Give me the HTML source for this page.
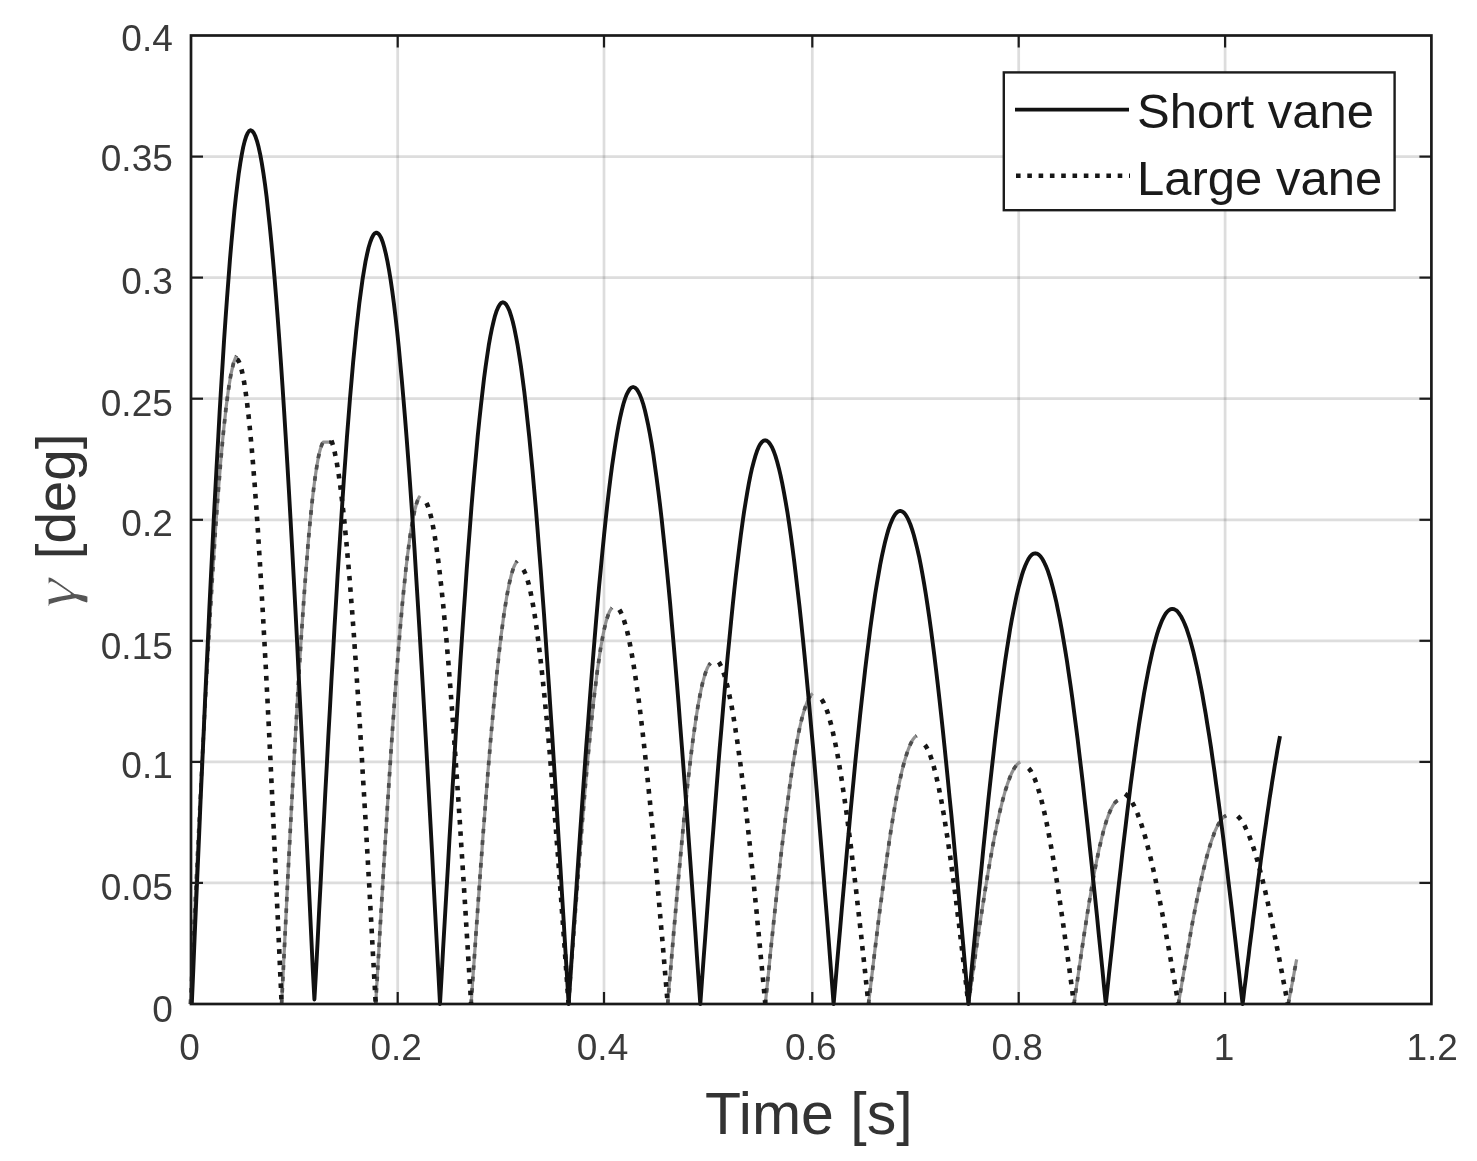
<!DOCTYPE html>
<html><head><meta charset="utf-8"><title>Vane plot</title>
<style>html,body{margin:0;padding:0;background:#fff}svg{display:block;filter:blur(0.55px)}text{font-family:"Liberation Sans",sans-serif}</style></head><body>
<svg width="1477" height="1161" viewBox="0 0 1477 1161">
<rect width="1477" height="1161" fill="#fff"/>
<g stroke="#262626" stroke-opacity="0.155" stroke-width="2.7"><line x1="397.7" y1="35.5" x2="397.7" y2="1004.0"/><line x1="604.0" y1="35.5" x2="604.0" y2="1004.0"/><line x1="812.3" y1="35.5" x2="812.3" y2="1004.0"/><line x1="1018.7" y1="35.5" x2="1018.7" y2="1004.0"/><line x1="1225.1" y1="35.5" x2="1225.1" y2="1004.0"/><line x1="191.0" y1="882.9" x2="1431.4" y2="882.9"/><line x1="191.0" y1="761.9" x2="1431.4" y2="761.9"/><line x1="191.0" y1="640.8" x2="1431.4" y2="640.8"/><line x1="191.0" y1="519.8" x2="1431.4" y2="519.8"/><line x1="191.0" y1="398.7" x2="1431.4" y2="398.7"/><line x1="191.0" y1="277.6" x2="1431.4" y2="277.6"/><line x1="191.0" y1="156.6" x2="1431.4" y2="156.6"/></g>
<g fill="none" stroke-linejoin="round">
<g stroke="#929292" stroke-width="3.2"><path d="M190.4 1004.0 L191.2 987.7 L191.9 971.4 L192.7 955.1 L193.5 938.9 L194.2 922.7 L195.0 906.6 L195.8 890.5 L196.6 874.5 L197.3 858.5 L198.1 842.7 L198.9 827.0 L199.6 811.3 L200.4 795.8 L201.2 780.5 L201.9 765.2 L202.7 750.1 L203.5 735.2 L204.3 720.5 L205.0 705.9 L205.8 691.5 L206.6 677.3 L207.3 663.3 L208.1 649.6 L208.9 636.0 L209.7 622.7 L210.4 609.6 L211.2 596.8 L212.0 584.2 L212.7 571.9 L213.5 559.9 L214.3 548.1 L215.0 536.7 L215.8 525.5 L216.6 514.6 L217.3 504.1 L218.1 493.8 L218.9 483.9 L219.7 474.3 L220.4 465.0 L221.2 456.1 L222.0 447.5 L222.7 439.3 L223.5 431.4 L224.3 423.9 L225.1 416.7 L225.8 410.0 L226.6 403.5 L227.4 397.5 L228.1 391.9 L228.9 386.6 L229.7 381.7 L230.4 377.3 L231.2 373.2 L232.0 369.5 L232.8 366.2 L233.5 363.3 L234.3 360.8 L235.1 358.7 L235.8 357.1 L236.6 355.8"/><path d="M281.6 1004.0 L282.3 989.9 L283.0 975.9 L283.7 961.8 L284.4 947.8 L285.1 933.8 L285.8 919.9 L286.5 906.0 L287.1 892.2 L287.8 878.4 L288.5 864.7 L289.2 851.1 L289.9 837.7 L290.6 824.3 L291.3 811.0 L292.0 797.8 L292.7 784.8 L293.4 771.9 L294.1 759.1 L294.8 746.6 L295.5 734.1 L296.2 721.9 L296.9 709.8 L297.5 697.9 L298.2 686.1 L298.9 674.6 L299.6 663.3 L300.3 652.2 L301.0 641.3 L301.7 630.7 L302.4 620.3 L303.1 610.1 L303.8 600.1 L304.5 590.4 L305.2 581.0 L305.9 571.9 L306.6 563.0 L307.3 554.4 L307.9 546.0 L308.6 538.0 L309.3 530.2 L310.0 522.7 L310.7 515.6 L311.4 508.7 L312.1 502.2 L312.8 495.9 L313.5 490.0 L314.2 484.4 L314.9 479.1 L315.6 474.2 L316.3 469.6 L317.0 465.3 L317.7 461.3 L318.3 457.7 L319.0 454.5 L319.7 451.5 L320.4 448.9 L321.1 446.7 L321.8 444.8 L322.5 443.3 L323.2 442.1 L331.0 442.1"/><path d="M375.7 1004.0 L376.4 991.2 L377.2 978.5 L377.9 965.8 L378.7 953.0 L379.4 940.4 L380.1 927.7 L380.9 915.1 L381.6 902.6 L382.4 890.1 L383.1 877.7 L383.8 865.4 L384.6 853.2 L385.3 841.0 L386.1 829.0 L386.8 817.1 L387.5 805.3 L388.3 793.6 L389.0 782.0 L389.8 770.6 L390.5 759.3 L391.2 748.2 L392.0 737.3 L392.7 726.5 L393.5 715.9 L394.2 705.4 L394.9 695.2 L395.7 685.1 L396.4 675.3 L397.2 665.7 L397.9 656.2 L398.6 647.0 L399.4 638.0 L400.1 629.3 L400.9 620.7 L401.6 612.5 L402.3 604.4 L403.1 596.6 L403.8 589.1 L404.6 581.8 L405.3 574.8 L406.0 568.1 L406.8 561.6 L407.5 555.4 L408.3 549.5 L409.0 543.9 L409.7 538.6 L410.5 533.5 L411.2 528.8 L412.0 524.4 L412.7 520.2 L413.4 516.4 L414.2 512.8 L414.9 509.6 L415.7 506.7 L416.4 504.1 L417.1 501.8 L417.9 499.8 L418.6 498.2 L419.4 496.8 L420.1 495.8"/><path d="M471.1 1004.0 L471.9 992.9 L472.6 981.7 L473.4 970.6 L474.2 959.5 L475.0 948.5 L475.7 937.4 L476.5 926.4 L477.3 915.5 L478.0 904.6 L478.8 893.8 L479.6 883.0 L480.3 872.4 L481.1 861.8 L481.9 851.3 L482.6 840.9 L483.4 830.5 L484.2 820.4 L485.0 810.3 L485.7 800.3 L486.5 790.5 L487.3 780.8 L488.0 771.2 L488.8 761.8 L489.6 752.6 L490.3 743.5 L491.1 734.5 L491.9 725.8 L492.7 717.2 L493.4 708.8 L494.2 700.5 L495.0 692.5 L495.7 684.7 L496.5 677.0 L497.3 669.6 L498.1 662.4 L498.8 655.4 L499.6 648.6 L500.4 642.1 L501.1 635.7 L501.9 629.6 L502.7 623.8 L503.4 618.1 L504.2 612.8 L505.0 607.6 L505.8 602.7 L506.5 598.1 L507.3 593.7 L508.1 589.6 L508.8 585.7 L509.6 582.1 L510.4 578.8 L511.1 575.8 L511.9 573.0 L512.7 570.4 L513.4 568.2 L514.2 566.2 L515.0 564.5 L515.8 563.1 L516.5 562.0 L517.3 561.1"/><path d="M568.6 1004.0 L569.3 994.1 L570.0 984.1 L570.8 974.2 L571.5 964.3 L572.2 954.4 L572.9 944.6 L573.7 934.8 L574.4 925.0 L575.1 915.3 L575.8 905.6 L576.6 896.0 L577.3 886.5 L578.0 877.1 L578.7 867.7 L579.5 858.4 L580.2 849.2 L580.9 840.1 L581.6 831.1 L582.3 822.2 L583.1 813.4 L583.8 804.8 L584.5 796.2 L585.2 787.8 L586.0 779.5 L586.7 771.4 L587.4 763.4 L588.1 755.6 L588.9 747.9 L589.6 740.4 L590.3 733.1 L591.0 725.9 L591.7 718.9 L592.5 712.0 L593.2 705.4 L593.9 698.9 L594.6 692.7 L595.4 686.6 L596.1 680.7 L596.8 675.0 L597.5 669.6 L598.3 664.3 L599.0 659.3 L599.7 654.5 L600.4 649.8 L601.1 645.5 L601.9 641.3 L602.6 637.4 L603.3 633.7 L604.0 630.2 L604.8 626.9 L605.5 623.9 L606.2 621.2 L606.9 618.7 L607.7 616.4 L608.4 614.3 L609.1 612.5 L609.8 611.0 L610.6 609.7 L611.3 608.6 L612.0 607.8"/><path d="M667.7 1004.0 L668.4 995.5 L669.1 986.9 L669.8 978.4 L670.6 969.9 L671.3 961.4 L672.0 952.9 L672.7 944.5 L673.4 936.1 L674.1 927.7 L674.9 919.4 L675.6 911.2 L676.3 903.0 L677.0 894.9 L677.7 886.8 L678.4 878.8 L679.1 870.9 L679.9 863.1 L680.6 855.3 L681.3 847.7 L682.0 840.1 L682.7 832.7 L683.4 825.3 L684.1 818.1 L684.9 811.0 L685.6 804.0 L686.3 797.1 L687.0 790.4 L687.7 783.8 L688.4 777.3 L689.2 771.0 L689.9 764.8 L690.6 758.8 L691.3 752.9 L692.0 747.2 L692.7 741.7 L693.4 736.3 L694.2 731.1 L694.9 726.0 L695.6 721.1 L696.3 716.4 L697.0 711.9 L697.7 707.6 L698.4 703.4 L699.2 699.4 L699.9 695.7 L700.6 692.1 L701.3 688.7 L702.0 685.5 L702.7 682.5 L703.5 679.7 L704.2 677.1 L704.9 674.7 L705.6 672.6 L706.3 670.6 L707.0 668.8 L707.7 667.3 L708.5 665.9 L709.2 664.8 L709.9 663.9 L710.6 663.2"/><path d="M765.3 1004.0 L766.1 996.2 L766.9 988.4 L767.7 980.6 L768.5 972.8 L769.3 965.0 L770.0 957.3 L770.8 949.6 L771.6 941.9 L772.4 934.3 L773.2 926.7 L774.0 919.1 L774.8 911.6 L775.6 904.2 L776.4 896.8 L777.2 889.5 L778.0 882.3 L778.8 875.1 L779.5 868.1 L780.3 861.1 L781.1 854.2 L781.9 847.4 L782.7 840.7 L783.5 834.1 L784.3 827.6 L785.1 821.2 L785.9 814.9 L786.7 808.8 L787.5 802.8 L788.3 796.9 L789.0 791.1 L789.8 785.5 L790.6 780.0 L791.4 774.6 L792.2 769.4 L793.0 764.3 L793.8 759.4 L794.6 754.7 L795.4 750.1 L796.2 745.7 L797.0 741.4 L797.8 737.3 L798.5 733.3 L799.3 729.6 L800.1 726.0 L800.9 722.5 L801.7 719.3 L802.5 716.2 L803.3 713.4 L804.1 710.7 L804.9 708.2 L805.7 705.8 L806.5 703.7 L807.3 701.7 L808.0 700.0 L808.8 698.4 L809.6 697.0 L810.4 695.9 L811.2 694.9 L812.0 694.1 L812.8 693.5"/><path d="M868.5 1004.0 L869.3 997.2 L870.1 990.5 L870.9 983.7 L871.7 977.0 L872.5 970.3 L873.3 963.6 L874.1 956.9 L874.9 950.3 L875.7 943.7 L876.5 937.1 L877.3 930.6 L878.1 924.1 L878.9 917.7 L879.7 911.3 L880.5 905.0 L881.4 898.8 L882.2 892.6 L883.0 886.5 L883.8 880.4 L884.6 874.5 L885.4 868.6 L886.2 862.8 L887.0 857.1 L887.8 851.5 L888.6 846.0 L889.4 840.5 L890.2 835.2 L891.0 830.0 L891.8 824.9 L892.6 820.0 L893.4 815.1 L894.2 810.3 L895.0 805.7 L895.8 801.2 L896.6 796.8 L897.4 792.6 L898.2 788.5 L899.0 784.5 L899.8 780.7 L900.6 777.0 L901.4 773.5 L902.2 770.0 L903.0 766.8 L903.8 763.7 L904.6 760.7 L905.5 757.9 L906.3 755.3 L907.1 752.8 L907.9 750.5 L908.7 748.3 L909.5 746.3 L910.3 744.5 L911.1 742.8 L911.9 741.3 L912.7 739.9 L913.5 738.7 L914.3 737.7 L915.1 736.9 L915.9 736.2 L916.7 735.7"/><path d="M968.4 1004.0 L969.3 997.9 L970.1 991.8 L971.0 985.7 L971.9 979.6 L972.7 973.5 L973.6 967.5 L974.5 961.5 L975.3 955.5 L976.2 949.5 L977.0 943.6 L977.9 937.7 L978.8 931.8 L979.6 926.0 L980.5 920.2 L981.4 914.5 L982.2 908.9 L983.1 903.3 L984.0 897.8 L984.8 892.3 L985.7 886.9 L986.6 881.6 L987.4 876.4 L988.3 871.2 L989.2 866.2 L990.0 861.2 L990.9 856.3 L991.8 851.5 L992.6 846.8 L993.5 842.2 L994.3 837.7 L995.2 833.3 L996.1 829.1 L996.9 824.9 L997.8 820.8 L998.7 816.9 L999.5 813.1 L1000.4 809.4 L1001.3 805.8 L1002.1 802.3 L1003.0 799.0 L1003.9 795.8 L1004.7 792.8 L1005.6 789.8 L1006.5 787.1 L1007.3 784.4 L1008.2 781.9 L1009.1 779.5 L1009.9 777.3 L1010.8 775.2 L1011.6 773.3 L1012.5 771.5 L1013.4 769.8 L1014.2 768.3 L1015.1 767.0 L1016.0 765.8 L1016.8 764.7 L1017.7 763.9 L1018.6 763.1 L1019.4 762.5 L1020.3 762.1"/><path d="M1074.0 1004.0 L1074.7 998.9 L1075.5 993.8 L1076.2 988.7 L1076.9 983.6 L1077.7 978.5 L1078.4 973.5 L1079.1 968.4 L1079.8 963.4 L1080.6 958.4 L1081.3 953.4 L1082.0 948.5 L1082.8 943.6 L1083.5 938.7 L1084.2 933.9 L1085.0 929.1 L1085.7 924.4 L1086.4 919.7 L1087.1 915.1 L1087.9 910.5 L1088.6 906.0 L1089.3 901.6 L1090.1 897.2 L1090.8 892.9 L1091.5 888.6 L1092.2 884.4 L1093.0 880.3 L1093.7 876.3 L1094.4 872.4 L1095.2 868.5 L1095.9 864.7 L1096.6 861.0 L1097.4 857.4 L1098.1 853.9 L1098.8 850.5 L1099.5 847.2 L1100.3 844.0 L1101.0 840.9 L1101.7 837.8 L1102.5 834.9 L1103.2 832.1 L1103.9 829.4 L1104.7 826.8 L1105.4 824.3 L1106.1 822.0 L1106.8 819.7 L1107.6 817.6 L1108.3 815.6 L1109.0 813.7 L1109.8 811.9 L1110.5 810.2 L1111.2 808.7 L1112.0 807.3 L1112.7 806.0 L1113.4 804.8 L1114.1 803.7 L1114.9 802.8 L1115.6 802.0 L1116.3 801.4 L1117.1 800.8 L1117.8 800.4"/><path d="M1178.4 1004.0 L1179.2 999.3 L1180.0 994.5 L1180.8 989.8 L1181.6 985.1 L1182.4 980.3 L1183.2 975.6 L1184.0 971.0 L1184.8 966.3 L1185.6 961.7 L1186.4 957.1 L1187.2 952.5 L1188.0 947.9 L1188.8 943.4 L1189.6 939.0 L1190.4 934.5 L1191.1 930.1 L1191.9 925.8 L1192.7 921.5 L1193.5 917.3 L1194.3 913.1 L1195.1 908.9 L1195.9 904.9 L1196.7 900.9 L1197.5 896.9 L1198.3 893.1 L1199.1 889.3 L1199.9 885.5 L1200.7 881.9 L1201.5 878.3 L1202.3 874.8 L1203.1 871.4 L1203.9 868.0 L1204.7 864.8 L1205.5 861.6 L1206.3 858.6 L1207.1 855.6 L1207.9 852.7 L1208.7 849.9 L1209.5 847.2 L1210.3 844.6 L1211.1 842.1 L1211.9 839.7 L1212.7 837.5 L1213.5 835.3 L1214.2 833.2 L1215.0 831.2 L1215.8 829.4 L1216.6 827.6 L1217.4 826.0 L1218.2 824.5 L1219.0 823.1 L1219.8 821.8 L1220.6 820.6 L1221.4 819.5 L1222.2 818.6 L1223.0 817.7 L1223.8 817.0 L1224.6 816.4 L1225.4 816.0 L1226.2 815.6"/><path d="M1288.3 1004.0 L1288.9 1000.5 L1289.6 997.1 L1290.2 993.6 L1290.9 990.1 L1291.5 986.7 L1292.2 983.2 L1292.8 979.8 L1293.5 976.4 L1294.1 972.9 L1294.7 969.5 L1295.4 966.1 L1296.0 962.7 L1296.7 959.4"/></g>
<g stroke="#4e4e4e" stroke-width="3.7" stroke-dasharray="4.6 6.8"><path d="M190.4 1004.0 L191.2 987.7 L191.9 971.4 L192.7 955.1 L193.5 938.9 L194.2 922.7 L195.0 906.6 L195.8 890.5 L196.6 874.5 L197.3 858.5 L198.1 842.7 L198.9 827.0 L199.6 811.3 L200.4 795.8 L201.2 780.5 L201.9 765.2 L202.7 750.1 L203.5 735.2 L204.3 720.5 L205.0 705.9 L205.8 691.5 L206.6 677.3 L207.3 663.3 L208.1 649.6 L208.9 636.0 L209.7 622.7 L210.4 609.6 L211.2 596.8 L212.0 584.2 L212.7 571.9 L213.5 559.9 L214.3 548.1 L215.0 536.7 L215.8 525.5 L216.6 514.6 L217.3 504.1 L218.1 493.8 L218.9 483.9 L219.7 474.3 L220.4 465.0 L221.2 456.1 L222.0 447.5 L222.7 439.3 L223.5 431.4 L224.3 423.9 L225.1 416.7 L225.8 410.0 L226.6 403.5 L227.4 397.5 L228.1 391.9 L228.9 386.6 L229.7 381.7 L230.4 377.3 L231.2 373.2 L232.0 369.5 L232.8 366.2 L233.5 363.3 L234.3 360.8 L235.1 358.7 L235.8 357.1 L236.6 355.8"/><path d="M281.6 1004.0 L282.3 989.9 L283.0 975.9 L283.7 961.8 L284.4 947.8 L285.1 933.8 L285.8 919.9 L286.5 906.0 L287.1 892.2 L287.8 878.4 L288.5 864.7 L289.2 851.1 L289.9 837.7 L290.6 824.3 L291.3 811.0 L292.0 797.8 L292.7 784.8 L293.4 771.9 L294.1 759.1 L294.8 746.6 L295.5 734.1 L296.2 721.9 L296.9 709.8 L297.5 697.9 L298.2 686.1 L298.9 674.6 L299.6 663.3 L300.3 652.2 L301.0 641.3 L301.7 630.7 L302.4 620.3 L303.1 610.1 L303.8 600.1 L304.5 590.4 L305.2 581.0 L305.9 571.9 L306.6 563.0 L307.3 554.4 L307.9 546.0 L308.6 538.0 L309.3 530.2 L310.0 522.7 L310.7 515.6 L311.4 508.7 L312.1 502.2 L312.8 495.9 L313.5 490.0 L314.2 484.4 L314.9 479.1 L315.6 474.2 L316.3 469.6 L317.0 465.3 L317.7 461.3 L318.3 457.7 L319.0 454.5 L319.7 451.5 L320.4 448.9 L321.1 446.7 L321.8 444.8 L322.5 443.3 L323.2 442.1 L331.0 442.1"/><path d="M375.7 1004.0 L376.4 991.2 L377.2 978.5 L377.9 965.8 L378.7 953.0 L379.4 940.4 L380.1 927.7 L380.9 915.1 L381.6 902.6 L382.4 890.1 L383.1 877.7 L383.8 865.4 L384.6 853.2 L385.3 841.0 L386.1 829.0 L386.8 817.1 L387.5 805.3 L388.3 793.6 L389.0 782.0 L389.8 770.6 L390.5 759.3 L391.2 748.2 L392.0 737.3 L392.7 726.5 L393.5 715.9 L394.2 705.4 L394.9 695.2 L395.7 685.1 L396.4 675.3 L397.2 665.7 L397.9 656.2 L398.6 647.0 L399.4 638.0 L400.1 629.3 L400.9 620.7 L401.6 612.5 L402.3 604.4 L403.1 596.6 L403.8 589.1 L404.6 581.8 L405.3 574.8 L406.0 568.1 L406.8 561.6 L407.5 555.4 L408.3 549.5 L409.0 543.9 L409.7 538.6 L410.5 533.5 L411.2 528.8 L412.0 524.4 L412.7 520.2 L413.4 516.4 L414.2 512.8 L414.9 509.6 L415.7 506.7 L416.4 504.1 L417.1 501.8 L417.9 499.8 L418.6 498.2 L419.4 496.8 L420.1 495.8"/><path d="M471.1 1004.0 L471.9 992.9 L472.6 981.7 L473.4 970.6 L474.2 959.5 L475.0 948.5 L475.7 937.4 L476.5 926.4 L477.3 915.5 L478.0 904.6 L478.8 893.8 L479.6 883.0 L480.3 872.4 L481.1 861.8 L481.9 851.3 L482.6 840.9 L483.4 830.5 L484.2 820.4 L485.0 810.3 L485.7 800.3 L486.5 790.5 L487.3 780.8 L488.0 771.2 L488.8 761.8 L489.6 752.6 L490.3 743.5 L491.1 734.5 L491.9 725.8 L492.7 717.2 L493.4 708.8 L494.2 700.5 L495.0 692.5 L495.7 684.7 L496.5 677.0 L497.3 669.6 L498.1 662.4 L498.8 655.4 L499.6 648.6 L500.4 642.1 L501.1 635.7 L501.9 629.6 L502.7 623.8 L503.4 618.1 L504.2 612.8 L505.0 607.6 L505.8 602.7 L506.5 598.1 L507.3 593.7 L508.1 589.6 L508.8 585.7 L509.6 582.1 L510.4 578.8 L511.1 575.8 L511.9 573.0 L512.7 570.4 L513.4 568.2 L514.2 566.2 L515.0 564.5 L515.8 563.1 L516.5 562.0 L517.3 561.1"/><path d="M568.6 1004.0 L569.3 994.1 L570.0 984.1 L570.8 974.2 L571.5 964.3 L572.2 954.4 L572.9 944.6 L573.7 934.8 L574.4 925.0 L575.1 915.3 L575.8 905.6 L576.6 896.0 L577.3 886.5 L578.0 877.1 L578.7 867.7 L579.5 858.4 L580.2 849.2 L580.9 840.1 L581.6 831.1 L582.3 822.2 L583.1 813.4 L583.8 804.8 L584.5 796.2 L585.2 787.8 L586.0 779.5 L586.7 771.4 L587.4 763.4 L588.1 755.6 L588.9 747.9 L589.6 740.4 L590.3 733.1 L591.0 725.9 L591.7 718.9 L592.5 712.0 L593.2 705.4 L593.9 698.9 L594.6 692.7 L595.4 686.6 L596.1 680.7 L596.8 675.0 L597.5 669.6 L598.3 664.3 L599.0 659.3 L599.7 654.5 L600.4 649.8 L601.1 645.5 L601.9 641.3 L602.6 637.4 L603.3 633.7 L604.0 630.2 L604.8 626.9 L605.5 623.9 L606.2 621.2 L606.9 618.7 L607.7 616.4 L608.4 614.3 L609.1 612.5 L609.8 611.0 L610.6 609.7 L611.3 608.6 L612.0 607.8"/><path d="M667.7 1004.0 L668.4 995.5 L669.1 986.9 L669.8 978.4 L670.6 969.9 L671.3 961.4 L672.0 952.9 L672.7 944.5 L673.4 936.1 L674.1 927.7 L674.9 919.4 L675.6 911.2 L676.3 903.0 L677.0 894.9 L677.7 886.8 L678.4 878.8 L679.1 870.9 L679.9 863.1 L680.6 855.3 L681.3 847.7 L682.0 840.1 L682.7 832.7 L683.4 825.3 L684.1 818.1 L684.9 811.0 L685.6 804.0 L686.3 797.1 L687.0 790.4 L687.7 783.8 L688.4 777.3 L689.2 771.0 L689.9 764.8 L690.6 758.8 L691.3 752.9 L692.0 747.2 L692.7 741.7 L693.4 736.3 L694.2 731.1 L694.9 726.0 L695.6 721.1 L696.3 716.4 L697.0 711.9 L697.7 707.6 L698.4 703.4 L699.2 699.4 L699.9 695.7 L700.6 692.1 L701.3 688.7 L702.0 685.5 L702.7 682.5 L703.5 679.7 L704.2 677.1 L704.9 674.7 L705.6 672.6 L706.3 670.6 L707.0 668.8 L707.7 667.3 L708.5 665.9 L709.2 664.8 L709.9 663.9 L710.6 663.2"/><path d="M765.3 1004.0 L766.1 996.2 L766.9 988.4 L767.7 980.6 L768.5 972.8 L769.3 965.0 L770.0 957.3 L770.8 949.6 L771.6 941.9 L772.4 934.3 L773.2 926.7 L774.0 919.1 L774.8 911.6 L775.6 904.2 L776.4 896.8 L777.2 889.5 L778.0 882.3 L778.8 875.1 L779.5 868.1 L780.3 861.1 L781.1 854.2 L781.9 847.4 L782.7 840.7 L783.5 834.1 L784.3 827.6 L785.1 821.2 L785.9 814.9 L786.7 808.8 L787.5 802.8 L788.3 796.9 L789.0 791.1 L789.8 785.5 L790.6 780.0 L791.4 774.6 L792.2 769.4 L793.0 764.3 L793.8 759.4 L794.6 754.7 L795.4 750.1 L796.2 745.7 L797.0 741.4 L797.8 737.3 L798.5 733.3 L799.3 729.6 L800.1 726.0 L800.9 722.5 L801.7 719.3 L802.5 716.2 L803.3 713.4 L804.1 710.7 L804.9 708.2 L805.7 705.8 L806.5 703.7 L807.3 701.7 L808.0 700.0 L808.8 698.4 L809.6 697.0 L810.4 695.9 L811.2 694.9 L812.0 694.1 L812.8 693.5"/><path d="M868.5 1004.0 L869.3 997.2 L870.1 990.5 L870.9 983.7 L871.7 977.0 L872.5 970.3 L873.3 963.6 L874.1 956.9 L874.9 950.3 L875.7 943.7 L876.5 937.1 L877.3 930.6 L878.1 924.1 L878.9 917.7 L879.7 911.3 L880.5 905.0 L881.4 898.8 L882.2 892.6 L883.0 886.5 L883.8 880.4 L884.6 874.5 L885.4 868.6 L886.2 862.8 L887.0 857.1 L887.8 851.5 L888.6 846.0 L889.4 840.5 L890.2 835.2 L891.0 830.0 L891.8 824.9 L892.6 820.0 L893.4 815.1 L894.2 810.3 L895.0 805.7 L895.8 801.2 L896.6 796.8 L897.4 792.6 L898.2 788.5 L899.0 784.5 L899.8 780.7 L900.6 777.0 L901.4 773.5 L902.2 770.0 L903.0 766.8 L903.8 763.7 L904.6 760.7 L905.5 757.9 L906.3 755.3 L907.1 752.8 L907.9 750.5 L908.7 748.3 L909.5 746.3 L910.3 744.5 L911.1 742.8 L911.9 741.3 L912.7 739.9 L913.5 738.7 L914.3 737.7 L915.1 736.9 L915.9 736.2 L916.7 735.7"/><path d="M968.4 1004.0 L969.3 997.9 L970.1 991.8 L971.0 985.7 L971.9 979.6 L972.7 973.5 L973.6 967.5 L974.5 961.5 L975.3 955.5 L976.2 949.5 L977.0 943.6 L977.9 937.7 L978.8 931.8 L979.6 926.0 L980.5 920.2 L981.4 914.5 L982.2 908.9 L983.1 903.3 L984.0 897.8 L984.8 892.3 L985.7 886.9 L986.6 881.6 L987.4 876.4 L988.3 871.2 L989.2 866.2 L990.0 861.2 L990.9 856.3 L991.8 851.5 L992.6 846.8 L993.5 842.2 L994.3 837.7 L995.2 833.3 L996.1 829.1 L996.9 824.9 L997.8 820.8 L998.7 816.9 L999.5 813.1 L1000.4 809.4 L1001.3 805.8 L1002.1 802.3 L1003.0 799.0 L1003.9 795.8 L1004.7 792.8 L1005.6 789.8 L1006.5 787.1 L1007.3 784.4 L1008.2 781.9 L1009.1 779.5 L1009.9 777.3 L1010.8 775.2 L1011.6 773.3 L1012.5 771.5 L1013.4 769.8 L1014.2 768.3 L1015.1 767.0 L1016.0 765.8 L1016.8 764.7 L1017.7 763.9 L1018.6 763.1 L1019.4 762.5 L1020.3 762.1"/><path d="M1074.0 1004.0 L1074.7 998.9 L1075.5 993.8 L1076.2 988.7 L1076.9 983.6 L1077.7 978.5 L1078.4 973.5 L1079.1 968.4 L1079.8 963.4 L1080.6 958.4 L1081.3 953.4 L1082.0 948.5 L1082.8 943.6 L1083.5 938.7 L1084.2 933.9 L1085.0 929.1 L1085.7 924.4 L1086.4 919.7 L1087.1 915.1 L1087.9 910.5 L1088.6 906.0 L1089.3 901.6 L1090.1 897.2 L1090.8 892.9 L1091.5 888.6 L1092.2 884.4 L1093.0 880.3 L1093.7 876.3 L1094.4 872.4 L1095.2 868.5 L1095.9 864.7 L1096.6 861.0 L1097.4 857.4 L1098.1 853.9 L1098.8 850.5 L1099.5 847.2 L1100.3 844.0 L1101.0 840.9 L1101.7 837.8 L1102.5 834.9 L1103.2 832.1 L1103.9 829.4 L1104.7 826.8 L1105.4 824.3 L1106.1 822.0 L1106.8 819.7 L1107.6 817.6 L1108.3 815.6 L1109.0 813.7 L1109.8 811.9 L1110.5 810.2 L1111.2 808.7 L1112.0 807.3 L1112.7 806.0 L1113.4 804.8 L1114.1 803.7 L1114.9 802.8 L1115.6 802.0 L1116.3 801.4 L1117.1 800.8 L1117.8 800.4"/><path d="M1178.4 1004.0 L1179.2 999.3 L1180.0 994.5 L1180.8 989.8 L1181.6 985.1 L1182.4 980.3 L1183.2 975.6 L1184.0 971.0 L1184.8 966.3 L1185.6 961.7 L1186.4 957.1 L1187.2 952.5 L1188.0 947.9 L1188.8 943.4 L1189.6 939.0 L1190.4 934.5 L1191.1 930.1 L1191.9 925.8 L1192.7 921.5 L1193.5 917.3 L1194.3 913.1 L1195.1 908.9 L1195.9 904.9 L1196.7 900.9 L1197.5 896.9 L1198.3 893.1 L1199.1 889.3 L1199.9 885.5 L1200.7 881.9 L1201.5 878.3 L1202.3 874.8 L1203.1 871.4 L1203.9 868.0 L1204.7 864.8 L1205.5 861.6 L1206.3 858.6 L1207.1 855.6 L1207.9 852.7 L1208.7 849.9 L1209.5 847.2 L1210.3 844.6 L1211.1 842.1 L1211.9 839.7 L1212.7 837.5 L1213.5 835.3 L1214.2 833.2 L1215.0 831.2 L1215.8 829.4 L1216.6 827.6 L1217.4 826.0 L1218.2 824.5 L1219.0 823.1 L1219.8 821.8 L1220.6 820.6 L1221.4 819.5 L1222.2 818.6 L1223.0 817.7 L1223.8 817.0 L1224.6 816.4 L1225.4 816.0 L1226.2 815.6"/><path d="M1288.3 1004.0 L1288.9 1000.5 L1289.6 997.1 L1290.2 993.6 L1290.9 990.1 L1291.5 986.7 L1292.2 983.2 L1292.8 979.8 L1293.5 976.4 L1294.1 972.9 L1294.7 969.5 L1295.4 966.1 L1296.0 962.7 L1296.7 959.4"/></g>
<g stroke="#161616" stroke-width="4.6" stroke-dasharray="4.6 6.8"><path d="M236.7 359.3 L237.4 359.7 L238.2 360.5 L238.9 361.8 L239.7 363.5 L240.4 365.6 L241.2 368.2 L241.9 371.1 L242.7 374.6 L243.4 378.4 L244.2 382.7 L244.9 387.4 L245.7 392.5 L246.4 398.0 L247.2 403.9 L247.9 410.3 L248.7 417.0 L249.4 424.1 L250.2 431.7 L250.9 439.6 L251.7 447.9 L252.4 456.5 L253.2 465.6 L253.9 475.0 L254.7 484.8 L255.4 494.9 L256.2 505.3 L256.9 516.1 L257.7 527.3 L258.4 538.7 L259.1 550.5 L259.9 562.5 L260.6 574.9 L261.4 587.6 L262.1 600.5 L262.9 613.7 L263.6 627.2 L264.4 640.9 L265.1 654.9 L265.9 669.1 L266.6 683.6 L267.4 698.2 L268.1 713.1 L268.9 728.1 L269.6 743.4 L270.4 758.8 L271.1 774.4 L271.9 790.1 L272.6 806.0 L273.4 822.1 L274.1 838.2 L274.9 854.5 L275.6 870.8 L276.4 887.3 L277.1 903.8 L277.9 920.4 L278.6 937.0 L279.4 953.7 L280.1 970.5 L280.9 987.2 L281.6 1004.0"/><path d="M331.4 440.6 L332.1 442.6 L332.9 445.0 L333.6 447.7 L334.4 450.7 L335.1 454.1 L335.8 457.7 L336.6 461.6 L337.3 465.9 L338.0 470.5 L338.8 475.3 L339.5 480.5 L340.3 486.0 L341.0 491.7 L341.7 497.8 L342.5 504.1 L343.2 510.7 L344.0 517.6 L344.7 524.8 L345.4 532.3 L346.2 540.0 L346.9 548.0 L347.6 556.2 L348.4 564.7 L349.1 573.4 L349.9 582.4 L350.6 591.7 L351.3 601.1 L352.1 610.8 L352.8 620.7 L353.6 630.9 L354.3 641.2 L355.0 651.8 L355.8 662.5 L356.5 673.5 L357.2 684.6 L358.0 695.9 L358.7 707.4 L359.5 719.1 L360.2 730.9 L360.9 742.9 L361.7 755.0 L362.4 767.3 L363.1 779.7 L363.9 792.2 L364.6 804.8 L365.4 817.6 L366.1 830.5 L366.8 843.4 L367.6 856.5 L368.3 869.6 L369.1 882.9 L369.8 896.1 L370.5 909.5 L371.3 922.9 L372.0 936.3 L372.7 949.8 L373.5 963.3 L374.2 976.9 L375.0 990.4 L375.7 1004.0"/><path d="M426.5 503.0 L427.2 504.5 L428.0 506.4 L428.7 508.5 L429.5 510.9 L430.2 513.6 L431.0 516.6 L431.7 519.9 L432.4 523.4 L433.2 527.3 L433.9 531.4 L434.7 535.8 L435.4 540.5 L436.2 545.4 L436.9 550.7 L437.6 556.2 L438.4 561.9 L439.1 567.9 L439.9 574.2 L440.6 580.7 L441.4 587.5 L442.1 594.6 L442.9 601.8 L443.6 609.3 L444.3 617.1 L445.1 625.0 L445.8 633.2 L446.6 641.6 L447.3 650.3 L448.1 659.1 L448.8 668.1 L449.5 677.4 L450.3 686.8 L451.0 696.4 L451.8 706.2 L452.5 716.2 L453.3 726.3 L454.0 736.7 L454.7 747.1 L455.5 757.7 L456.2 768.5 L457.0 779.4 L457.7 790.4 L458.5 801.6 L459.2 812.9 L460.0 824.3 L460.7 835.8 L461.4 847.4 L462.2 859.1 L462.9 870.8 L463.7 882.7 L464.4 894.6 L465.2 906.6 L465.9 918.7 L466.6 930.7 L467.4 942.9 L468.1 955.1 L468.9 967.3 L469.6 979.5 L470.4 991.7 L471.1 1004.0"/><path d="M523.4 569.8 L524.2 571.1 L524.9 572.6 L525.7 574.4 L526.4 576.4 L527.2 578.7 L527.9 581.3 L528.7 584.1 L529.4 587.1 L530.2 590.4 L530.9 593.9 L531.7 597.7 L532.4 601.7 L533.2 606.0 L533.9 610.5 L534.7 615.2 L535.5 620.2 L536.2 625.4 L537.0 630.8 L537.7 636.5 L538.5 642.3 L539.2 648.4 L540.0 654.7 L540.7 661.2 L541.5 667.9 L542.2 674.8 L543.0 681.9 L543.7 689.2 L544.5 696.7 L545.2 704.3 L546.0 712.2 L546.8 720.2 L547.5 728.4 L548.3 736.7 L549.0 745.2 L549.8 753.9 L550.5 762.7 L551.3 771.6 L552.0 780.7 L552.8 789.9 L553.5 799.3 L554.3 808.7 L555.0 818.3 L555.8 828.0 L556.5 837.8 L557.3 847.7 L558.1 857.7 L558.8 867.8 L559.6 878.0 L560.3 888.2 L561.1 898.5 L561.8 908.9 L562.6 919.3 L563.3 929.8 L564.1 940.3 L564.8 950.9 L565.6 961.5 L566.3 972.1 L567.1 982.7 L567.8 993.3 L568.6 1004.0"/><path d="M619.3 609.7 L620.1 611.0 L620.9 612.4 L621.7 614.1 L622.5 616.0 L623.3 618.2 L624.1 620.6 L624.9 623.2 L625.8 626.0 L626.6 629.1 L627.4 632.4 L628.2 635.8 L629.0 639.6 L629.8 643.5 L630.6 647.6 L631.4 652.0 L632.2 656.5 L633.0 661.3 L633.8 666.2 L634.6 671.4 L635.4 676.7 L636.2 682.3 L637.0 688.0 L637.9 693.9 L638.7 700.0 L639.5 706.3 L640.3 712.7 L641.1 719.3 L641.9 726.1 L642.7 733.1 L643.5 740.2 L644.3 747.4 L645.1 754.9 L645.9 762.4 L646.7 770.1 L647.5 778.0 L648.3 785.9 L649.1 794.0 L650.0 802.3 L650.8 810.6 L651.6 819.1 L652.4 827.6 L653.2 836.3 L654.0 845.1 L654.8 853.9 L655.6 862.9 L656.4 871.9 L657.2 881.0 L658.0 890.2 L658.8 899.4 L659.6 908.8 L660.4 918.1 L661.2 927.5 L662.1 937.0 L662.9 946.5 L663.7 956.0 L664.5 965.6 L665.3 975.2 L666.1 984.8 L666.9 994.4 L667.7 1004.0"/><path d="M718.8 662.1 L719.6 663.3 L720.3 664.7 L721.1 666.3 L721.9 668.1 L722.7 670.1 L723.4 672.2 L724.2 674.6 L725.0 677.1 L725.8 679.9 L726.5 682.8 L727.3 685.9 L728.1 689.2 L728.9 692.7 L729.6 696.3 L730.4 700.1 L731.2 704.1 L732.0 708.3 L732.8 712.7 L733.5 717.2 L734.3 721.8 L735.1 726.7 L735.8 731.7 L736.6 736.8 L737.4 742.1 L738.2 747.6 L738.9 753.2 L739.7 758.9 L740.5 764.8 L741.3 770.8 L742.0 777.0 L742.8 783.2 L743.6 789.7 L744.4 796.2 L745.1 802.8 L745.9 809.6 L746.7 816.5 L747.5 823.5 L748.2 830.6 L749.0 837.8 L749.8 845.0 L750.6 852.4 L751.3 859.9 L752.1 867.4 L752.9 875.1 L753.7 882.7 L754.4 890.5 L755.2 898.3 L756.0 906.2 L756.8 914.2 L757.5 922.2 L758.3 930.2 L759.1 938.3 L759.9 946.5 L760.6 954.6 L761.4 962.8 L762.2 971.0 L763.0 979.2 L763.8 987.5 L764.5 995.7 L765.3 1004.0"/><path d="M821.5 699.4 L822.3 700.5 L823.1 701.8 L823.9 703.3 L824.6 704.9 L825.4 706.7 L826.2 708.7 L827.0 710.8 L827.8 713.1 L828.5 715.6 L829.3 718.2 L830.1 721.0 L830.9 723.9 L831.7 727.0 L832.5 730.3 L833.2 733.7 L834.0 737.3 L834.8 741.0 L835.6 744.9 L836.4 748.9 L837.2 753.1 L838.0 757.4 L838.7 761.9 L839.5 766.5 L840.3 771.2 L841.1 776.1 L841.9 781.1 L842.6 786.2 L843.4 791.4 L844.2 796.8 L845.0 802.3 L845.8 807.8 L846.6 813.5 L847.4 819.4 L848.1 825.3 L848.9 831.3 L849.7 837.4 L850.5 843.6 L851.3 849.9 L852.0 856.3 L852.8 862.8 L853.6 869.4 L854.4 876.0 L855.2 882.7 L856.0 889.5 L856.8 896.3 L857.5 903.2 L858.3 910.2 L859.1 917.2 L859.9 924.2 L860.7 931.3 L861.5 938.5 L862.2 945.7 L863.0 952.9 L863.8 960.1 L864.6 967.4 L865.4 974.7 L866.1 982.0 L866.9 989.3 L867.7 996.7 L868.5 1004.0"/><path d="M924.9 745.0 L925.6 745.9 L926.4 747.0 L927.1 748.3 L927.8 749.7 L928.5 751.2 L929.2 752.9 L930.0 754.7 L930.7 756.7 L931.4 758.8 L932.1 761.0 L932.9 763.4 L933.6 765.9 L934.3 768.6 L935.0 771.4 L935.8 774.3 L936.5 777.4 L937.2 780.5 L937.9 783.8 L938.7 787.3 L939.4 790.8 L940.1 794.5 L940.9 798.3 L941.6 802.2 L942.3 806.2 L943.0 810.3 L943.8 814.6 L944.5 818.9 L945.2 823.4 L945.9 828.0 L946.6 832.6 L947.4 837.4 L948.1 842.2 L948.8 847.2 L949.5 852.2 L950.3 857.3 L951.0 862.5 L951.7 867.8 L952.4 873.1 L953.2 878.6 L953.9 884.1 L954.6 889.6 L955.4 895.3 L956.1 901.0 L956.8 906.7 L957.5 912.5 L958.2 918.4 L959.0 924.3 L959.7 930.3 L960.4 936.3 L961.1 942.3 L961.9 948.4 L962.6 954.5 L963.3 960.6 L964.0 966.8 L964.8 972.9 L965.5 979.1 L966.2 985.3 L966.9 991.5 L967.7 997.8 L968.4 1004.0"/><path d="M1028.6 768.3 L1029.4 769.1 L1030.1 770.1 L1030.9 771.2 L1031.6 772.5 L1032.4 773.9 L1033.1 775.4 L1033.9 777.0 L1034.7 778.8 L1035.4 780.7 L1036.2 782.7 L1036.9 784.9 L1037.7 787.2 L1038.4 789.6 L1039.2 792.1 L1039.9 794.8 L1040.7 797.5 L1041.5 800.4 L1042.2 803.4 L1043.0 806.5 L1043.7 809.8 L1044.5 813.1 L1045.2 816.5 L1046.0 820.1 L1046.8 823.7 L1047.5 827.5 L1048.3 831.4 L1049.0 835.3 L1049.8 839.4 L1050.5 843.5 L1051.3 847.8 L1052.1 852.1 L1052.8 856.5 L1053.6 861.0 L1054.3 865.6 L1055.1 870.3 L1055.8 875.0 L1056.6 879.8 L1057.4 884.7 L1058.1 889.6 L1058.9 894.7 L1059.6 899.7 L1060.4 904.9 L1061.1 910.1 L1061.9 915.3 L1062.7 920.6 L1063.4 925.9 L1064.2 931.3 L1064.9 936.8 L1065.7 942.2 L1066.4 947.7 L1067.2 953.3 L1067.9 958.8 L1068.7 964.4 L1069.5 970.0 L1070.2 975.7 L1071.0 981.3 L1071.7 987.0 L1072.5 992.6 L1073.2 998.3 L1074.0 1004.0"/><path d="M1125.0 793.9 L1125.9 794.5 L1126.8 795.2 L1127.7 796.1 L1128.6 797.1 L1129.5 798.2 L1130.3 799.4 L1131.2 800.8 L1132.1 802.2 L1133.0 803.8 L1133.9 805.5 L1134.8 807.4 L1135.7 809.3 L1136.6 811.4 L1137.5 813.5 L1138.3 815.8 L1139.2 818.2 L1140.1 820.7 L1141.0 823.4 L1141.9 826.1 L1142.8 828.9 L1143.7 831.9 L1144.6 834.9 L1145.5 838.0 L1146.4 841.3 L1147.2 844.6 L1148.1 848.1 L1149.0 851.6 L1149.9 855.2 L1150.8 858.9 L1151.7 862.7 L1152.6 866.6 L1153.5 870.5 L1154.4 874.6 L1155.3 878.7 L1156.2 882.9 L1157.0 887.1 L1157.9 891.5 L1158.8 895.9 L1159.7 900.3 L1160.6 904.9 L1161.5 909.5 L1162.4 914.1 L1163.3 918.8 L1164.2 923.5 L1165.1 928.3 L1165.9 933.2 L1166.8 938.1 L1167.7 943.0 L1168.6 947.9 L1169.5 952.9 L1170.4 957.9 L1171.3 963.0 L1172.2 968.1 L1173.1 973.2 L1174.0 978.3 L1174.8 983.4 L1175.7 988.5 L1176.6 993.7 L1177.5 998.8 L1178.4 1004.0"/><path d="M1237.7 816.2 L1238.5 817.0 L1239.4 817.9 L1240.2 818.9 L1241.0 820.0 L1241.9 821.2 L1242.7 822.5 L1243.5 823.9 L1244.4 825.4 L1245.2 827.0 L1246.0 828.7 L1246.9 830.5 L1247.7 832.4 L1248.6 834.3 L1249.4 836.4 L1250.2 838.6 L1251.1 840.8 L1251.9 843.2 L1252.7 845.6 L1253.6 848.1 L1254.4 850.7 L1255.2 853.4 L1256.1 856.2 L1256.9 859.0 L1257.7 861.9 L1258.6 864.9 L1259.4 868.0 L1260.2 871.2 L1261.1 874.4 L1261.9 877.7 L1262.8 881.1 L1263.6 884.5 L1264.4 888.0 L1265.3 891.6 L1266.1 895.2 L1266.9 898.9 L1267.8 902.6 L1268.6 906.4 L1269.4 910.3 L1270.3 914.2 L1271.1 918.1 L1271.9 922.1 L1272.8 926.2 L1273.6 930.3 L1274.4 934.4 L1275.3 938.6 L1276.1 942.8 L1276.9 947.0 L1277.8 951.3 L1278.6 955.5 L1279.5 959.9 L1280.3 964.2 L1281.1 968.6 L1282.0 973.0 L1282.8 977.4 L1283.6 981.8 L1284.5 986.2 L1285.3 990.7 L1286.1 995.1 L1287.0 999.5 L1287.8 1004.0"/></g>
<path stroke="#111" stroke-width="3.9" d="M191.8 1004.0 L193.3 969.7 L194.7 935.5 L196.2 901.3 L197.7 867.3 L199.2 833.5 L200.6 800.0 L202.1 766.8 L203.6 734.0 L205.0 701.6 L206.5 669.6 L208.0 638.2 L209.4 607.3 L210.9 577.1 L212.4 547.5 L213.8 518.6 L215.3 490.5 L216.8 463.1 L218.3 436.6 L219.7 410.9 L221.2 386.2 L222.7 362.4 L224.1 339.6 L225.6 317.9 L227.1 297.2 L228.6 277.5 L230.0 259.0 L231.5 241.7 L233.0 225.5 L234.4 210.6 L235.9 196.8 L237.4 184.3 L238.8 173.1 L240.3 163.1 L241.8 154.4 L243.2 147.1 L244.7 141.1 L246.2 136.4 L247.7 133.0 L249.1 131.0 L250.6 130.3 L252.2 131.0 L253.8 133.0 L255.4 136.4 L257.0 141.1 L258.6 147.1 L260.2 154.4 L261.8 163.1 L263.4 173.1 L265.0 184.3 L266.6 196.8 L268.1 210.6 L269.7 225.5 L271.3 241.7 L272.9 259.0 L274.5 277.5 L276.1 297.2 L277.7 317.9 L279.3 339.6 L280.9 362.4 L282.5 386.2 L284.1 410.9 L285.7 436.6 L287.3 463.1 L288.9 490.5 L290.5 518.6 L292.1 547.5 L293.7 577.1 L295.3 607.3 L296.9 638.2 L298.4 669.6 L300.0 701.6 L301.6 734.0 L303.2 766.8 L304.8 800.0 L306.4 833.5 L308.0 867.3 L309.6 901.3 L311.2 935.5 L312.8 969.7 L314.4 999.5 L314.4 999.5 L315.9 973.7 L317.5 943.5 L319.0 913.3 L320.6 883.3 L322.1 853.5 L323.7 823.9 L325.2 794.6 L326.8 765.7 L328.3 737.0 L329.9 708.8 L331.4 681.1 L333.0 653.8 L334.5 627.1 L336.1 601.0 L337.6 575.5 L339.2 550.6 L340.8 526.5 L342.3 503.1 L343.8 480.4 L345.4 458.6 L346.9 437.6 L348.5 417.5 L350.0 398.3 L351.6 380.0 L353.1 362.7 L354.7 346.4 L356.2 331.0 L357.8 316.8 L359.3 303.5 L360.9 291.4 L362.4 280.4 L364.0 270.5 L365.5 261.7 L367.1 254.0 L368.6 247.5 L370.2 242.2 L371.8 238.0 L373.3 235.1 L374.8 233.3 L376.4 232.7 L378.0 233.3 L379.6 235.1 L381.2 238.0 L382.8 242.2 L384.3 247.5 L385.9 254.0 L387.5 261.7 L389.1 270.5 L390.7 280.4 L392.3 291.4 L393.9 303.5 L395.5 316.8 L397.1 331.0 L398.7 346.4 L400.2 362.7 L401.8 380.0 L403.4 398.3 L405.0 417.5 L406.6 437.6 L408.2 458.6 L409.8 480.4 L411.4 503.1 L413.0 526.5 L414.6 550.6 L416.1 575.5 L417.7 601.0 L419.3 627.1 L420.9 653.8 L422.5 681.1 L424.1 708.8 L425.7 737.0 L427.3 765.7 L428.9 794.6 L430.5 823.9 L432.1 853.5 L433.6 883.3 L435.2 913.3 L436.8 943.5 L438.4 973.7 L440.0 1004.0 L440.0 1004.0 L441.6 976.5 L443.1 948.9 L444.7 921.5 L446.3 894.2 L447.9 867.1 L449.4 840.2 L451.0 813.5 L452.6 787.2 L454.2 761.1 L455.7 735.5 L457.3 710.2 L458.9 685.4 L460.4 661.1 L462.0 637.4 L463.6 614.2 L465.2 591.6 L466.7 569.6 L468.3 548.3 L469.9 527.7 L471.4 507.8 L473.0 488.7 L474.6 470.4 L476.2 452.9 L477.7 436.3 L479.3 420.6 L480.9 405.7 L482.5 391.8 L484.0 378.8 L485.6 366.8 L487.2 355.7 L488.7 345.7 L490.3 336.6 L491.9 328.6 L493.5 321.7 L495.0 315.8 L496.6 310.9 L498.2 307.2 L499.8 304.5 L501.3 302.8 L502.9 302.3 L504.5 302.8 L506.2 304.5 L507.8 307.2 L509.5 310.9 L511.1 315.8 L512.8 321.7 L514.4 328.6 L516.0 336.6 L517.7 345.7 L519.3 355.7 L521.0 366.8 L522.6 378.8 L524.3 391.8 L525.9 405.7 L527.5 420.6 L529.2 436.3 L530.8 452.9 L532.5 470.4 L534.1 488.7 L535.8 507.8 L537.4 527.7 L539.0 548.3 L540.7 569.6 L542.3 591.6 L544.0 614.2 L545.6 637.4 L547.2 661.1 L548.9 685.4 L550.5 710.2 L552.2 735.5 L553.8 761.1 L555.5 787.2 L557.1 813.5 L558.7 840.2 L560.4 867.1 L562.0 894.2 L563.7 921.5 L565.3 948.9 L567.0 976.5 L568.6 1004.0 L568.6 1004.0 L570.2 979.8 L571.8 955.6 L573.4 931.5 L575.1 907.5 L576.7 883.6 L578.3 860.0 L579.9 836.5 L581.5 813.3 L583.1 790.4 L584.7 767.9 L586.3 745.7 L588.0 723.9 L589.6 702.5 L591.2 681.6 L592.8 661.2 L594.4 641.3 L596.0 622.0 L597.6 603.3 L599.2 585.2 L600.9 567.7 L602.5 550.9 L604.1 534.8 L605.7 519.5 L607.3 504.8 L608.9 491.0 L610.5 477.9 L612.1 465.7 L613.8 454.2 L615.4 443.7 L617.0 434.0 L618.6 425.1 L620.2 417.2 L621.8 410.2 L623.4 404.0 L625.0 398.9 L626.6 394.6 L628.3 391.3 L629.9 388.9 L631.5 387.5 L633.1 387.0 L634.8 387.5 L636.5 388.9 L638.1 391.3 L639.8 394.6 L641.5 398.9 L643.2 404.0 L644.9 410.2 L646.5 417.2 L648.2 425.1 L649.9 434.0 L651.6 443.7 L653.3 454.2 L654.9 465.7 L656.6 477.9 L658.3 491.0 L660.0 504.8 L661.7 519.5 L663.3 534.8 L665.0 550.9 L666.7 567.7 L668.4 585.2 L670.1 603.3 L671.7 622.0 L673.4 641.3 L675.1 661.2 L676.8 681.6 L678.5 702.5 L680.1 723.9 L681.8 745.7 L683.5 767.9 L685.2 790.4 L686.9 813.3 L688.5 836.5 L690.2 860.0 L691.9 883.6 L693.6 907.5 L695.3 931.5 L696.9 955.6 L698.6 979.8 L700.3 1004.0 L700.3 1004.0 L701.9 981.9 L703.5 959.8 L705.2 937.7 L706.8 915.8 L708.4 894.0 L710.0 872.4 L711.6 851.0 L713.3 829.8 L714.9 808.9 L716.5 788.3 L718.1 768.0 L719.7 748.1 L721.4 728.6 L723.0 709.5 L724.6 690.8 L726.2 672.7 L727.8 655.0 L729.5 637.9 L731.1 621.4 L732.7 605.4 L734.3 590.1 L735.9 575.4 L737.6 561.3 L739.2 548.0 L740.8 535.3 L742.4 523.4 L744.0 512.2 L745.7 501.7 L747.3 492.1 L748.9 483.2 L750.5 475.1 L752.1 467.9 L753.8 461.5 L755.4 455.9 L757.0 451.1 L758.6 447.2 L760.2 444.2 L761.9 442.0 L763.5 440.7 L765.1 440.3 L766.8 440.7 L768.5 442.0 L770.2 444.2 L772.0 447.2 L773.7 451.1 L775.4 455.9 L777.1 461.5 L778.8 467.9 L780.5 475.1 L782.2 483.2 L783.9 492.1 L785.6 501.7 L787.4 512.2 L789.1 523.4 L790.8 535.3 L792.5 548.0 L794.2 561.3 L795.9 575.4 L797.6 590.1 L799.4 605.4 L801.1 621.4 L802.8 637.9 L804.5 655.0 L806.2 672.7 L807.9 690.8 L809.6 709.5 L811.3 728.6 L813.1 748.1 L814.8 768.0 L816.5 788.3 L818.2 808.9 L819.9 829.8 L821.6 851.0 L823.3 872.4 L825.0 894.0 L826.8 915.8 L828.5 937.7 L830.2 959.8 L831.9 981.9 L833.6 1004.0 L833.6 1004.0 L835.3 984.6 L836.9 965.3 L838.6 946.0 L840.3 926.9 L841.9 907.8 L843.6 888.9 L845.3 870.2 L846.9 851.6 L848.6 833.3 L850.2 815.3 L851.9 797.6 L853.6 780.1 L855.2 763.1 L856.9 746.4 L858.6 730.0 L860.2 714.2 L861.9 698.7 L863.6 683.8 L865.2 669.3 L866.9 655.3 L868.6 641.9 L870.2 629.0 L871.9 616.8 L873.6 605.1 L875.2 594.0 L876.9 583.6 L878.6 573.8 L880.2 564.6 L881.9 556.2 L883.6 548.4 L885.2 541.4 L886.9 535.0 L888.5 529.4 L890.2 524.5 L891.9 520.4 L893.5 517.0 L895.2 514.3 L896.9 512.4 L898.5 511.3 L900.2 510.9 L901.9 511.3 L903.6 512.4 L905.3 514.3 L907.0 517.0 L908.7 520.4 L910.4 524.5 L912.1 529.4 L913.8 535.0 L915.5 541.4 L917.2 548.4 L919.0 556.2 L920.7 564.6 L922.4 573.8 L924.1 583.6 L925.8 594.0 L927.5 605.1 L929.2 616.8 L930.9 629.0 L932.6 641.9 L934.3 655.3 L936.0 669.3 L937.7 683.8 L939.4 698.7 L941.1 714.2 L942.8 730.0 L944.5 746.4 L946.2 763.1 L947.9 780.1 L949.6 797.6 L951.4 815.3 L953.1 833.3 L954.8 851.6 L956.5 870.2 L958.2 888.9 L959.9 907.8 L961.6 926.9 L963.3 946.0 L965.0 965.3 L966.7 984.6 L968.4 1004.0 L968.4 1004.0 L970.1 986.3 L971.7 968.6 L973.4 951.0 L975.1 933.5 L976.8 916.1 L978.4 898.8 L980.1 881.7 L981.8 864.7 L983.4 848.0 L985.1 831.5 L986.8 815.3 L988.4 799.4 L990.1 783.8 L991.8 768.5 L993.5 753.6 L995.1 739.1 L996.8 725.0 L998.5 711.3 L1000.1 698.1 L1001.8 685.3 L1003.5 673.0 L1005.1 661.3 L1006.8 650.1 L1008.5 639.4 L1010.1 629.3 L1011.8 619.7 L1013.5 610.8 L1015.2 602.4 L1016.8 594.7 L1018.5 587.6 L1020.2 581.2 L1021.8 575.4 L1023.5 570.2 L1025.2 565.8 L1026.9 562.0 L1028.5 558.8 L1030.2 556.4 L1031.9 554.7 L1033.5 553.6 L1035.2 553.3 L1037.0 553.6 L1038.7 554.7 L1040.5 556.4 L1042.3 558.8 L1044.0 562.0 L1045.8 565.8 L1047.6 570.2 L1049.3 575.4 L1051.1 581.2 L1052.8 587.6 L1054.6 594.7 L1056.4 602.4 L1058.1 610.8 L1059.9 619.7 L1061.7 629.3 L1063.4 639.4 L1065.2 650.1 L1067.0 661.3 L1068.7 673.0 L1070.5 685.3 L1072.3 698.1 L1074.0 711.3 L1075.8 725.0 L1077.6 739.1 L1079.3 753.6 L1081.1 768.5 L1082.9 783.8 L1084.6 799.4 L1086.4 815.3 L1088.2 831.5 L1089.9 848.0 L1091.7 864.7 L1093.4 881.7 L1095.2 898.8 L1097.0 916.1 L1098.7 933.5 L1100.5 951.0 L1102.3 968.6 L1104.0 986.3 L1105.8 1004.0 L1105.8 1004.0 L1107.5 988.5 L1109.1 973.0 L1110.8 957.6 L1112.5 942.2 L1114.1 926.9 L1115.8 911.8 L1117.4 896.8 L1119.1 881.9 L1120.8 867.2 L1122.4 852.8 L1124.1 838.6 L1125.8 824.6 L1127.4 810.9 L1129.1 797.6 L1130.7 784.5 L1132.4 771.8 L1134.1 759.4 L1135.7 747.4 L1137.4 735.8 L1139.0 724.6 L1140.7 713.9 L1142.4 703.6 L1144.0 693.7 L1145.7 684.4 L1147.4 675.5 L1149.0 667.1 L1150.7 659.3 L1152.3 652.0 L1154.0 645.2 L1155.7 639.0 L1157.3 633.3 L1159.0 628.2 L1160.7 623.7 L1162.3 619.8 L1164.0 616.5 L1165.6 613.8 L1167.3 611.6 L1169.0 610.1 L1170.6 609.2 L1172.3 608.9 L1174.1 609.2 L1175.8 610.1 L1177.6 611.6 L1179.3 613.8 L1181.1 616.5 L1182.8 619.8 L1184.6 623.7 L1186.4 628.2 L1188.1 633.3 L1189.9 639.0 L1191.6 645.2 L1193.4 652.0 L1195.1 659.3 L1196.9 667.1 L1198.7 675.5 L1200.4 684.4 L1202.2 693.7 L1203.9 703.6 L1205.7 713.9 L1207.4 724.6 L1209.2 735.8 L1211.0 747.4 L1212.7 759.4 L1214.5 771.8 L1216.2 784.5 L1218.0 797.6 L1219.8 810.9 L1221.5 824.6 L1223.3 838.6 L1225.0 852.8 L1226.8 867.2 L1228.5 881.9 L1230.3 896.8 L1232.1 911.8 L1233.8 926.9 L1235.6 942.2 L1237.3 957.6 L1239.1 973.0 L1240.8 988.5 L1242.6 1004.0 L1242.6 1004.0 L1243.5 997.0 L1244.3 989.9 L1245.2 982.9 L1246.1 975.9 L1246.9 968.9 L1247.8 961.9 L1248.7 954.9 L1249.5 947.9 L1250.4 941.0 L1251.3 934.1 L1252.2 927.2 L1253.0 920.3 L1253.9 913.5 L1254.8 906.7 L1255.6 900.0 L1256.5 893.3 L1257.4 886.6 L1258.2 880.0 L1259.1 873.4 L1260.0 866.9 L1260.8 860.4 L1261.7 854.0 L1262.6 847.6 L1263.4 841.3 L1264.3 835.1 L1265.2 828.9 L1266.1 822.8 L1266.9 816.8 L1267.8 810.8 L1268.7 804.9 L1269.5 799.1 L1270.4 793.4 L1271.3 787.7 L1272.1 782.2 L1273.0 776.7 L1273.9 771.3 L1274.7 766.0 L1275.6 760.8 L1276.5 755.6 L1277.3 750.6 L1278.2 745.7 L1279.1 740.9 L1280.0 736.1"/>
</g>
<g stroke="#1c1c1c" stroke-width="2.2"><line x1="397.7" y1="1004.0" x2="397.7" y2="992.0"/><line x1="397.7" y1="35.5" x2="397.7" y2="47.5"/><line x1="604.0" y1="1004.0" x2="604.0" y2="992.0"/><line x1="604.0" y1="35.5" x2="604.0" y2="47.5"/><line x1="812.3" y1="1004.0" x2="812.3" y2="992.0"/><line x1="812.3" y1="35.5" x2="812.3" y2="47.5"/><line x1="1018.7" y1="1004.0" x2="1018.7" y2="992.0"/><line x1="1018.7" y1="35.5" x2="1018.7" y2="47.5"/><line x1="1225.1" y1="1004.0" x2="1225.1" y2="992.0"/><line x1="1225.1" y1="35.5" x2="1225.1" y2="47.5"/><line x1="191.0" y1="882.9" x2="203.0" y2="882.9"/><line x1="1431.4" y1="882.9" x2="1419.4" y2="882.9"/><line x1="191.0" y1="761.9" x2="203.0" y2="761.9"/><line x1="1431.4" y1="761.9" x2="1419.4" y2="761.9"/><line x1="191.0" y1="640.8" x2="203.0" y2="640.8"/><line x1="1431.4" y1="640.8" x2="1419.4" y2="640.8"/><line x1="191.0" y1="519.8" x2="203.0" y2="519.8"/><line x1="1431.4" y1="519.8" x2="1419.4" y2="519.8"/><line x1="191.0" y1="398.7" x2="203.0" y2="398.7"/><line x1="1431.4" y1="398.7" x2="1419.4" y2="398.7"/><line x1="191.0" y1="277.6" x2="203.0" y2="277.6"/><line x1="1431.4" y1="277.6" x2="1419.4" y2="277.6"/><line x1="191.0" y1="156.6" x2="203.0" y2="156.6"/><line x1="1431.4" y1="156.6" x2="1419.4" y2="156.6"/></g>
<rect x="191.0" y="35.5" width="1240.4" height="968.5" fill="none" stroke="#1a1a1a" stroke-width="2.7"/>
<text transform="translate(189.5 1060.0) scale(1.000 1)" font-size="37" fill="#3a3a3a" text-anchor="middle">0</text>
<text transform="translate(396.2 1060.0) scale(1.000 1)" font-size="37" fill="#3a3a3a" text-anchor="middle">0.2</text>
<text transform="translate(602.5 1060.0) scale(1.000 1)" font-size="37" fill="#3a3a3a" text-anchor="middle">0.4</text>
<text transform="translate(810.8 1060.0) scale(1.000 1)" font-size="37" fill="#3a3a3a" text-anchor="middle">0.6</text>
<text transform="translate(1017.2 1060.0) scale(1.000 1)" font-size="37" fill="#3a3a3a" text-anchor="middle">0.8</text>
<text transform="translate(1224.1 1060.0) scale(1.000 1)" font-size="37" fill="#3a3a3a" text-anchor="middle">1</text>
<text transform="translate(1432.1 1060.0) scale(1.000 1)" font-size="37" fill="#3a3a3a" text-anchor="middle">1.2</text>
<text transform="translate(172.8 1022.3) scale(1.000 1)" font-size="37" fill="#3a3a3a" text-anchor="end">0</text>
<text transform="translate(172.8 899.7) scale(1.000 1)" font-size="37" fill="#3a3a3a" text-anchor="end">0.05</text>
<text transform="translate(172.8 777.9) scale(1.000 1)" font-size="37" fill="#3a3a3a" text-anchor="end">0.1</text>
<text transform="translate(172.8 658.6) scale(1.000 1)" font-size="37" fill="#3a3a3a" text-anchor="end">0.15</text>
<text transform="translate(172.8 535.8) scale(1.000 1)" font-size="37" fill="#3a3a3a" text-anchor="end">0.2</text>
<text transform="translate(172.8 416.0) scale(1.000 1)" font-size="37" fill="#3a3a3a" text-anchor="end">0.25</text>
<text transform="translate(172.8 293.9) scale(1.000 1)" font-size="37" fill="#3a3a3a" text-anchor="end">0.3</text>
<text transform="translate(172.8 171.3) scale(1.000 1)" font-size="37" fill="#3a3a3a" text-anchor="end">0.35</text>
<text transform="translate(172.8 51.4) scale(1.000 1)" font-size="37" fill="#3a3a3a" text-anchor="end">0.4</text>
<text transform="translate(808.8 1134.0) scale(1.000 1)" font-size="59" fill="#333" text-anchor="middle">Time [s]</text>
<text transform="translate(75.0 559.3) rotate(-90) scale(1.025 1)" font-size="55.2" fill="#333">[deg]</text>
<text transform="translate(75.2 608) rotate(-90) scale(1.25 1)" font-size="60" fill="#555" stroke="#fff" stroke-width="1.1" style="font-family:'Liberation Serif','DejaVu Serif',serif;font-style:italic">γ</text>
<rect x="1003.8" y="72.4" width="390.8" height="137.8" fill="#fff" stroke="#1c1c1c" stroke-width="2.4"/>
<line x1="1015" y1="109.6" x2="1129" y2="109.6" stroke="#111" stroke-width="3.9"/>
<line x1="1016" y1="175.7" x2="1130" y2="175.7" stroke="#161616" stroke-width="4.6" stroke-dasharray="4.6 6.7"/>
<text transform="translate(1137.0 128.0) scale(1.000 1)" font-size="49" fill="#1a1a1a" text-anchor="start">Short vane</text>
<text transform="translate(1137.0 194.5) scale(1.000 1)" font-size="49" fill="#1a1a1a" text-anchor="start">Large vane</text>
</svg></body></html>
